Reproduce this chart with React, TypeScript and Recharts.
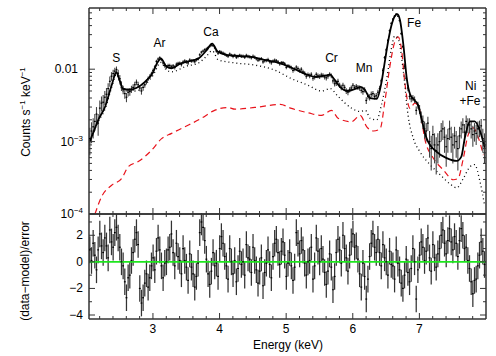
import React from "react";
import {
  ComposedChart,
  Line,
  Scatter,
  ErrorBar,
  XAxis,
  YAxis,
  ReferenceLine,
  ReferenceDot,
} from "recharts";

const FONT = '"Liberation Sans", Arial, Helvetica, sans-serif';
const AXIS = "#333";

// spectral bins (keV), 0.025 keV wide
const binE = Array.from({ length: 238 }, (_, i) => +(2.0525 + 0.025 * i).toFixed(4));

// observed rate, counts/s/keV
const rate = [
  1.1e-3, 1.4e-3, 1.6e-3, 1.9e-3, 2.4e-3, 1.8e-3, 2.9e-3, 3.4e-3, 3.5e-3, 4.1e-3,
  4.5e-3, 5.4e-3, 6.8e-3, 8.0e-3, 8.7e-3, 9.4e-3, 9.9e-3, 8.8e-3, 7.4e-3, 5.9e-3,
  5.2e-3, 4.6e-3, 4.1e-3, 4.8e-3, 4.9e-3, 5.3e-3, 5.6e-3, 6.1e-3, 6.6e-3, 6.1e-3,
  5.5e-3, 5.0e-3, 5.6e-3, 6.1e-3, 6.7e-3, 7.4e-3, 7.9e-3, 8.6e-3, 0.0096, 0.0107,
  0.0128, 0.0138, 0.0144, 0.0136, 0.0122, 0.0112, 0.0107, 0.0112, 0.0112, 0.0108,
  0.0111, 0.0106, 0.0117, 0.012, 0.0121, 0.0116, 0.0125, 0.013, 0.0126, 0.0122,
  0.0134, 0.013, 0.0131, 0.0127, 0.0135, 0.0139, 0.0158, 0.0172, 0.0178, 0.0186,
  0.019, 0.0198, 0.0207, 0.0216, 0.0212, 0.0198, 0.0178, 0.0166, 0.0176, 0.0171,
  0.0167, 0.0162, 0.0155, 0.0151, 0.0162, 0.0156, 0.015, 0.0156, 0.0146, 0.015,
  0.0156, 0.0151, 0.0151, 0.0146, 0.0155, 0.015, 0.0148, 0.0144, 0.0151, 0.0146,
  0.0139, 0.0133, 0.0136, 0.014, 0.0126, 0.0131, 0.0132, 0.0136, 0.0127, 0.0123,
  0.0129, 0.0133, 0.0131, 0.0126, 0.0119, 0.0123, 0.0123, 0.0119, 0.0106, 0.0111,
  0.0109, 0.0105, 0.0096, 0.01, 0.0107, 0.0102, 0.0096, 0.01, 0.0092, 0.0088,
  0.008, 0.0084, 0.0081, 0.0085, 0.0075, 0.0078, 0.0085, 0.0081, 0.0079, 0.0083,
  0.0082, 0.0078, 0.0076, 0.008, 0.0085, 0.0081, 0.0069, 0.0063, 0.0064, 0.0068,
  0.006, 0.0056, 0.006, 0.0056, 0.005, 0.0048, 0.0052, 0.0055, 0.006, 0.0056,
  0.0058, 0.0056, 0.0055, 0.0051, 0.0049, 0.0052, 0.0037, 0.0042, 0.0041, 0.0045,
  0.0046, 0.0042, 0.0043, 0.0048, 0.0054, 0.0069, 0.0096, 0.0145, 0.0185, 0.025,
  0.034, 0.043, 0.049, 0.054, 0.0575, 0.054, 0.047, 0.031, 0.0205, 0.011,
  0.0075, 0.0055, 0.0042, 0.0039, 0.004, 0.0038, 0.0027, 0.0032, 0.0028, 0.0022,
  1.9e-3, 1.5e-3, 1.4e-3, 1.8e-3, 1.0e-3, 8.0e-4, 1.25e-3, 9.0e-4, 7.5e-4, 9.0e-4,
  1.0e-3, 1.4e-3, 1.5e-3, 1.15e-3, 8.5e-4, 1.1e-3, 1.5e-3, 1.15e-3, 9.0e-4, 1.2e-3,
  1.0e-3, 8.0e-4, 1.2e-3, 1.5e-3, 1.7e-3, 1.35e-3, 1.9e-3, 1.7e-3, 1.7e-3, 1.5e-3,
  1.25e-3, 1.4e-3, 1.3e-3, 1.5e-3, 1.55e-3, 1.65e-3, 1.1e-3, 9.0e-4,
];

// 1-sigma error of the rate, per pair of bins
const rateErr = [
  4.5e-4, 5e-4, 6e-4, 8e-4, 9e-4, 1.0e-3, 1.1e-3, 1.1e-3, 1.0e-3, 9e-4,
  7e-4, 6e-4, 6e-4, 6e-4, 6e-4, 5.5e-4, 5.5e-4, 5.5e-4, 6e-4, 6.5e-4,
  7.5e-4, 7.5e-4, 7e-4, 7e-4, 7e-4, 7e-4, 7e-4, 7e-4, 7.5e-4, 7.5e-4,
  7.5e-4, 7.5e-4, 7.5e-4, 8e-4, 8.5e-4, 9e-4, 9.5e-4, 9.5e-4, 9e-4, 8.5e-4,
  8.5e-4, 8e-4, 8e-4, 8e-4, 8e-4, 8e-4, 8e-4, 8e-4, 8e-4, 8e-4,
  7.5e-4, 7.5e-4, 7.5e-4, 7.5e-4, 7.5e-4, 7.5e-4, 7.5e-4, 7e-4, 7e-4, 6.5e-4,
  6.5e-4, 6.5e-4, 6.5e-4, 6.5e-4, 6e-4, 6e-4, 6e-4, 6e-4, 6e-4, 6e-4,
  6e-4, 6e-4, 6e-4, 5.5e-4, 5.5e-4, 5e-4, 5e-4, 4.5e-4, 4.5e-4, 4.5e-4,
  4.5e-4, 4.5e-4, 4.5e-4, 4e-4, 4e-4, 4e-4, 4e-4, 5e-4, 7e-4, 1.0e-3,
  1.3e-3, 1.5e-3, 1.6e-3, 1.4e-3, 9e-4, 5.5e-4, 4e-4, 4e-4, 3.5e-4, 4e-4,
  4e-4, 4e-4, 4e-4, 4e-4, 4e-4, 4e-4, 4.5e-4, 4e-4, 4.5e-4, 4e-4,
  4e-4, 4e-4, 4e-4, 4e-4, 4e-4, 4e-4, 4e-4, 4e-4, 4e-4,
];

// (data-model)/error
const resid = [
  0.9, 0.1, 1.4, 0.5, -0.6, 0.9, 2.1, 1.2, 0.7, 1.8,
  1.2, 0.3, 2.4, 1.5, 1.1, 2.2, 2.6, 1.8, 1.1, 0.0,
  -0.3, -1.5, -2.7, -1.2, -1.0, 0.1, 0.7, 1.7, 2.2, 1.3,
  -2.0, -3.1, -2.7, -1.6, -0.9, -1.9, -1.2, -0.3, 0.3, -0.6,
  0.8, 1.8, 0.9, -0.3, -1.2, -0.1, 0.0, 0.9, 1.1, 2.1,
  0.7, -0.3, 1.4, 0.4, 0.1, -0.9, 1.0, 0.1, -0.4, -1.4,
  0.6, -0.4, -0.9, -1.9, -1.1, -0.1, 2.2, 3.0, 2.6, 1.6,
  0.2, -0.9, -1.7, -0.7, 0.7, -0.3, -0.1, -1.1, 1.0, 1.9,
  1.4, 0.4, -0.3, -1.3, 1.0, 0.0, -0.9, 0.1, -1.5, -0.5,
  0.8, -0.2, 0.0, -1.0, 1.3, 0.3, 0.2, -0.8, 1.1, 0.1,
  -0.6, -1.6, -0.7, 0.3, -1.8, -0.8, -0.1, 0.9, -0.2, -1.2,
  0.4, 1.4, 1.7, 0.7, -0.2, 0.8, 1.5, 0.5, -1.1, -0.1,
  0.7, -0.3, -1.4, -0.4, 2.2, 1.4, 0.6, 1.6, 0.9, -0.1,
  -1.0, 0.0, 0.1, 1.1, -1.3, -0.3, 1.8, 0.8, 0.0, 1.0,
  0.2, -0.8, -1.7, -0.7, 0.6, -0.4, -2.1, -1.1, 0.7, 1.7,
  0.9, -0.1, 2.0, 1.0, 0.3, -0.7, 0.5, 1.5, 2.1, 1.1,
  1.2, 0.2, -0.9, -1.9, -0.1, -1.1, -2.8, -1.3, 0.4, 1.4,
  2.1, 1.1, 0.7, 1.7, 0.7, -0.3, 1.3, 0.3, 0.0, -1.0,
  0.8, -0.2, -0.3, -1.3, 0.9, -0.1, -0.6, -1.6, -2.0, -1.0,
  0.2, -0.8, -1.5, -0.5, 1.0, 0.0, -2.8, -0.6, 0.5, 1.5,
  1.1, 0.1, 0.8, 1.8, 0.3, -0.7, 1.3, 0.3, -0.4, 0.6,
  1.0, 2.0, 2.4, 1.4, 0.6, 1.6, 2.5, 1.5, 0.9, 1.9,
  1.4, 0.4, 1.6, 2.5, 2.0, 1.0, 1.1, 0.1, -0.5, -1.5,
  -2.4, -1.4, -1.3, -0.3, 0.5, 1.5, 0.8, -0.2,
];

// total model
const modelE = [2.05, 2.1, 2.18, 2.28, 2.38, 2.45, 2.5, 2.55, 2.65, 2.75, 2.88, 3.0, 3.06, 3.12, 3.2, 3.28, 3.4, 3.5, 3.68, 3.8, 3.89, 3.97, 4.1, 4.3, 4.5, 4.7, 4.9, 5.1, 5.3, 5.45, 5.6, 5.66, 5.72, 5.8, 5.93, 6.05, 6.12, 6.18, 6.26, 6.36, 6.43, 6.48, 6.53, 6.58, 6.63, 6.67, 6.71, 6.76, 6.81, 6.86, 6.93, 6.98, 7.03, 7.11, 7.26, 7.41, 7.56, 7.63, 7.68, 7.76, 7.83, 7.91, 7.98];
const modelV = [1.0e-3, 1.3e-3, 2.0e-3, 3.0e-3, 6.0e-3, 9.0e-3, 7.0e-3, 5.4e-3, 5.2e-3, 5.5e-3, 6.7e-3, 9.0e-3, 0.012, 0.014, 0.011, 0.0103, 0.0118, 0.0126, 0.014, 0.018, 0.0225, 0.0175, 0.0158, 0.0152, 0.0147, 0.0133, 0.0121, 0.0103, 0.0085, 0.0078, 0.0082, 0.0084, 0.0073, 0.0058, 0.005, 0.0054, 0.0057, 0.0052, 0.004, 0.0039, 0.0065, 0.0125, 0.024, 0.04, 0.054, 0.0575, 0.047, 0.0215, 0.0075, 0.0045, 0.0037, 0.0032, 0.0021, 0.0011, 7.2e-4, 5.9e-4, 5.4e-4, 6.2e-4, 1.1e-3, 1.9e-3, 1.9e-3, 1.4e-3, 8.3e-4];

// dotted component
const dotE = [2.05, 2.18, 2.28, 2.38, 2.45, 2.55, 2.75, 2.88, 3.0, 3.12, 3.2, 3.28, 3.5, 3.68, 3.8, 3.89, 3.98, 4.23, 4.53, 4.83, 5.08, 5.33, 5.53, 5.66, 5.78, 5.98, 6.11, 6.19, 6.26, 6.36, 6.43, 6.51, 6.58, 6.63, 6.68, 6.76, 6.83, 6.91, 7.01, 7.16, 7.31, 7.46, 7.56, 7.66, 7.76, 7.83, 7.91, 7.98];
const dotV = [9.5e-4, 1.9e-3, 2.8e-3, 5.6e-3, 8.5e-3, 5.0e-3, 5.0e-3, 6.1e-3, 8.2e-3, 0.0124, 0.0098, 0.0092, 0.011, 0.0121, 0.015, 0.018, 0.0135, 0.0122, 0.0114, 0.0097, 0.0074, 0.006, 0.005, 0.0054, 0.0042, 0.0029, 0.0026, 0.0027, 0.0021, 0.002, 0.0032, 0.0074, 0.0193, 0.0288, 0.0265, 0.0092, 0.0023, 0.0011, 7.2e-4, 4.8e-4, 3.5e-4, 2.6e-4, 2.3e-4, 3.1e-4, 4.5e-4, 4.8e-4, 2.8e-4, 1.3e-4];

// red dashed component
const redE = [2.13, 2.23, 2.38, 2.53, 2.63, 2.78, 2.98, 3.13, 3.28, 3.48, 3.73, 3.91, 4.13, 4.23, 4.53, 4.91, 5.08, 5.33, 5.53, 5.68, 5.78, 5.98, 6.11, 6.21, 6.31, 6.41, 6.48, 6.56, 6.63, 6.68, 6.73, 6.78, 6.86, 6.93, 7.01, 7.08, 7.21, 7.36, 7.51, 7.58, 7.66, 7.73, 7.81, 7.88, 7.96];
const redV = [1.0e-4, 1.74e-4, 2.5e-4, 3.1e-4, 4.5e-4, 5.3e-4, 7.6e-4, 1.1e-3, 1.3e-3, 1.6e-3, 2.1e-3, 2.66e-3, 2.96e-3, 2.8e-3, 2.96e-3, 3.26e-3, 2.87e-3, 2.5e-3, 2.3e-3, 2.7e-3, 2.1e-3, 1.88e-3, 2.3e-3, 1.6e-3, 1.4e-3, 1.5e-3, 3.5e-3, 0.0114, 0.0238, 0.0279, 0.0193, 6.7e-3, 2.87e-3, 3.4e-3, 2.6e-3, 1.1e-3, 5.9e-4, 4.06e-4, 2.97e-4, 3.1e-4, 5.9e-4, 1.22e-3, 1.55e-3, 1.17e-3, 6.5e-4];

// line identifications
const lineNames = ["S", "Ar", "Ca", "Cr", "Mn", "Fe", "Ni", "+Fe"];
const lineE = [2.45, 3.1, 3.87, 5.68, 6.17, 6.92, 7.77, 7.76];
const lineV = [0.0142, 0.0229, 0.0334, 0.0143, 0.0104, 0.0445, 5.83e-3, 3.66e-3];

const xTicks = [2.2, 2.4, 2.6, 2.8, 3, 3.2, 3.4, 3.6, 3.8, 4, 4.2, 4.4, 4.6, 4.8, 5, 5.2, 5.4, 5.6, 5.8, 6, 6.2, 6.4, 6.6, 6.8, 7, 7.2, 7.4, 7.6, 7.8];
const logTicks = [
  1e-4, 2e-4, 3e-4, 4e-4, 5e-4, 6e-4, 7e-4, 8e-4, 9e-4, 1e-3,
  2e-3, 3e-3, 4e-3, 5e-3, 6e-3, 7e-3, 8e-3, 9e-3, 1e-2,
  2e-2, 3e-2, 4e-2, 5e-2, 6e-2,
];
const resTicks = [-4, -3, -2, -1, 0, 1, 2, 3];

const spec = binE.map((e, i) => ({ e, v: rate[i], err: rateErr[Math.floor(i / 2)] }));
const resTable = binE.map((e, i) => ({ e, r: resid[i], err: 1 }));
const model = modelE.map((e, i) => ({ e, v: modelV[i] }));
const comp = dotE.map((e, i) => ({ e, v: dotV[i] }));
const red = redE.map((e, i) => ({ e, v: redV[i] }));

const near = (a: number, b: number) => Math.abs(a - b) < 1e-6;
const isInt = (v: number) => near(v, Math.round(v));

const XTick = (p: any) => {
  const v = p.payload.value;
  const major = isInt(v);
  const d = p.side === "top" ? 1 : -1;
  return (
    <g>
      <line x1={p.x} x2={p.x} y1={p.y} y2={p.y + d * (major ? 6 : 3)} stroke={AXIS} strokeWidth={1} />
      {p.label && major && (
        <text x={p.x} y={p.y + 14} textAnchor="middle" fontSize={12} fontFamily={FONT} fill="#000">
          {v}
        </text>
      )}
    </g>
  );
};

const LogTick = (p: any) => {
  const v = p.payload.value;
  const ex = Math.round(Math.log10(v));
  const major = near(Math.log10(v), ex);
  const d = p.side === "left" ? 1 : -1;
  let lab = null;
  if (p.side === "left" && major) {
    lab =
      ex === -2 ? (
        <text x={p.x - 11} y={p.y + 4} textAnchor="end" fontSize={12} fontFamily={FONT} fill="#000">
          0.01
        </text>
      ) : (
        <text x={p.x - 6} y={p.y + 4} textAnchor="end" fontSize={12} fontFamily={FONT} fill="#000">
          10
          <tspan dy={-5} fontSize={8}>
            {"\u2212" + -ex}
          </tspan>
        </text>
      );
  }
  return (
    <g>
      <line x1={p.x} x2={p.x + d * (major ? 6 : 3)} y1={p.y} y2={p.y} stroke={AXIS} strokeWidth={1} />
      {lab}
    </g>
  );
};

const ResTick = (p: any) => {
  const v = p.payload.value;
  const major = isInt(v / 2);
  const d = p.side === "left" ? 1 : -1;
  return (
    <g>
      <line x1={p.x} x2={p.x + d * (major ? 6 : 3)} y1={p.y} y2={p.y} stroke={AXIS} strokeWidth={1} />
      {p.side === "left" && major && (
        <text x={p.x - 6} y={p.y + 4} textAnchor="end" fontSize={12} fontFamily={FONT} fill="#000">
          {(v < 0 ? "\u2212" : "") + Math.abs(v)}
        </text>
      )}
    </g>
  );
};

const binMark = (p: any) =>
  p.cx == null ? <g /> : (
    <line x1={p.cx - 0.9} x2={p.cx + 0.9} y1={p.cy} y2={p.cy} stroke="#000" strokeWidth={1.2} />
  );

const axLine = { stroke: AXIS, strokeWidth: 1.5 };
const X_DOMAIN: [number, number] = [2.04, 8.0];

const title: React.CSSProperties = {
  position: "absolute",
  fontFamily: FONT,
  fontSize: 12,
  color: "#000",
  whiteSpace: "nowrap",
  transform: "translate(-50%, -50%)",
};

export default function App() {
  return (
    <div style={{ position: "absolute", left: 0, top: 0, width: 496, height: 356, background: "#fff" }}>
      <div style={{ position: "absolute", left: 0, top: 0 }}>
        <ComposedChart width={496} height={225} margin={{ top: 7, right: 9, bottom: 10, left: 0 }}>
          <XAxis
            xAxisId={0}
            type="number"
            dataKey="e"
            domain={X_DOMAIN}
            allowDataOverflow
            ticks={xTicks}
            interval={0}
            height={1}
            tickSize={0}
            tickMargin={0}
            tickLine={false}
            axisLine={axLine}
            tick={(p: any) => <XTick {...p} side="bottom" />}
          />
          <XAxis
            xAxisId="top"
            orientation="top"
            type="number"
            dataKey="e"
            domain={X_DOMAIN}
            allowDataOverflow
            ticks={xTicks}
            interval={0}
            height={1}
            tickSize={0}
            tickMargin={0}
            tickLine={false}
            axisLine={axLine}
            tick={(p: any) => <XTick {...p} side="top" />}
          />
          <YAxis
            yAxisId={0}
            scale="log"
            type="number"
            domain={[1e-4, 0.07]}
            allowDataOverflow
            ticks={logTicks}
            interval={0}
            width={89}
            tickSize={0}
            tickMargin={0}
            tickLine={false}
            axisLine={axLine}
            tick={(p: any) => <LogTick {...p} side="left" />}
          />
          <YAxis
            yAxisId="right"
            orientation="right"
            scale="log"
            type="number"
            domain={[1e-4, 0.07]}
            allowDataOverflow
            ticks={logTicks}
            interval={0}
            width={1}
            tickSize={0}
            tickMargin={0}
            tickLine={false}
            axisLine={axLine}
            tick={(p: any) => <LogTick {...p} side="right" />}
          />
          <Line
            data={red}
            dataKey="v"
            type="monotone"
            stroke="#e8141c"
            strokeWidth={1.2}
            strokeDasharray="6 4"
            dot={false}
            isAnimationActive={false}
          />
          <Line
            data={comp}
            dataKey="v"
            type="monotone"
            stroke="#000"
            strokeWidth={1.3}
            strokeDasharray="1 3"
            dot={false}
            isAnimationActive={false}
          />
          <Scatter data={spec} dataKey="v" shape={binMark} isAnimationActive={false}>
            <ErrorBar dataKey="err" direction="y" width={0} stroke="#444" strokeWidth={1.1} />
          </Scatter>
          <Line
            data={model}
            dataKey="v"
            type="monotone"
            stroke="#000"
            strokeWidth={1.8}
            dot={false}
            isAnimationActive={false}
          />
          {lineNames.map((n, i) => (
            <ReferenceDot
              key={n}
              x={lineE[i]}
              y={lineV[i]}
              r={0}
              fill="none"
              stroke="none"
              label={{ value: n, position: "center", fontSize: 12, fill: "#000", fontFamily: FONT }}
            />
          ))}
        </ComposedChart>
      </div>

      <div style={{ position: "absolute", left: 0, top: 213 }}>
        <ComposedChart width={496} height={143} margin={{ top: 0, right: 9, bottom: 0, left: 0 }} data={resTable}>
          <XAxis
            xAxisId={0}
            type="number"
            dataKey="e"
            domain={X_DOMAIN}
            allowDataOverflow
            ticks={xTicks}
            interval={0}
            height={37}
            tickSize={0}
            tickMargin={0}
            tickLine={false}
            axisLine={axLine}
            tick={(p: any) => <XTick {...p} side="bottom" label />}
          />
          <XAxis
            xAxisId="top"
            orientation="top"
            type="number"
            dataKey="e"
            domain={X_DOMAIN}
            allowDataOverflow
            ticks={xTicks}
            interval={0}
            height={1}
            tickSize={0}
            tickMargin={0}
            tickLine={false}
            axisLine={axLine}
            tick={(p: any) => <XTick {...p} side="top" />}
          />
          <YAxis
            yAxisId={0}
            type="number"
            domain={[-4.3, 3.6]}
            allowDataOverflow
            ticks={resTicks}
            interval={0}
            width={89}
            tickSize={0}
            tickMargin={0}
            tickLine={false}
            axisLine={axLine}
            tick={(p: any) => <ResTick {...p} side="left" />}
          />
          <YAxis
            yAxisId="right"
            orientation="right"
            type="number"
            domain={[-4.3, 3.6]}
            allowDataOverflow
            ticks={resTicks}
            interval={0}
            width={1}
            tickSize={0}
            tickMargin={0}
            tickLine={false}
            axisLine={axLine}
            tick={(p: any) => <ResTick {...p} side="right" />}
          />
          <Scatter dataKey="r" shape={binMark} isAnimationActive={false}>
            <ErrorBar dataKey="err" direction="y" width={0} stroke="#333" strokeWidth={1.25} />
          </Scatter>
          <ReferenceLine y={0} stroke="#1ee61e" strokeWidth={1.6} />
        </ComposedChart>
      </div>

      <div style={{ ...title, left: 25, top: 112, transform: "translate(-50%, -50%) rotate(-90deg)" }}>
        Counts s<sup style={{ fontSize: 8 }}>−1</sup> keV<sup style={{ fontSize: 8 }}>−1</sup>
      </div>
      <div style={{ ...title, left: 25, top: 271, transform: "translate(-50%, -50%) rotate(-90deg)" }}>
        (data−model)/error
      </div>
      <div style={{ ...title, left: 288, top: 345 }}>Energy (keV)</div>
    </div>
  );
}
